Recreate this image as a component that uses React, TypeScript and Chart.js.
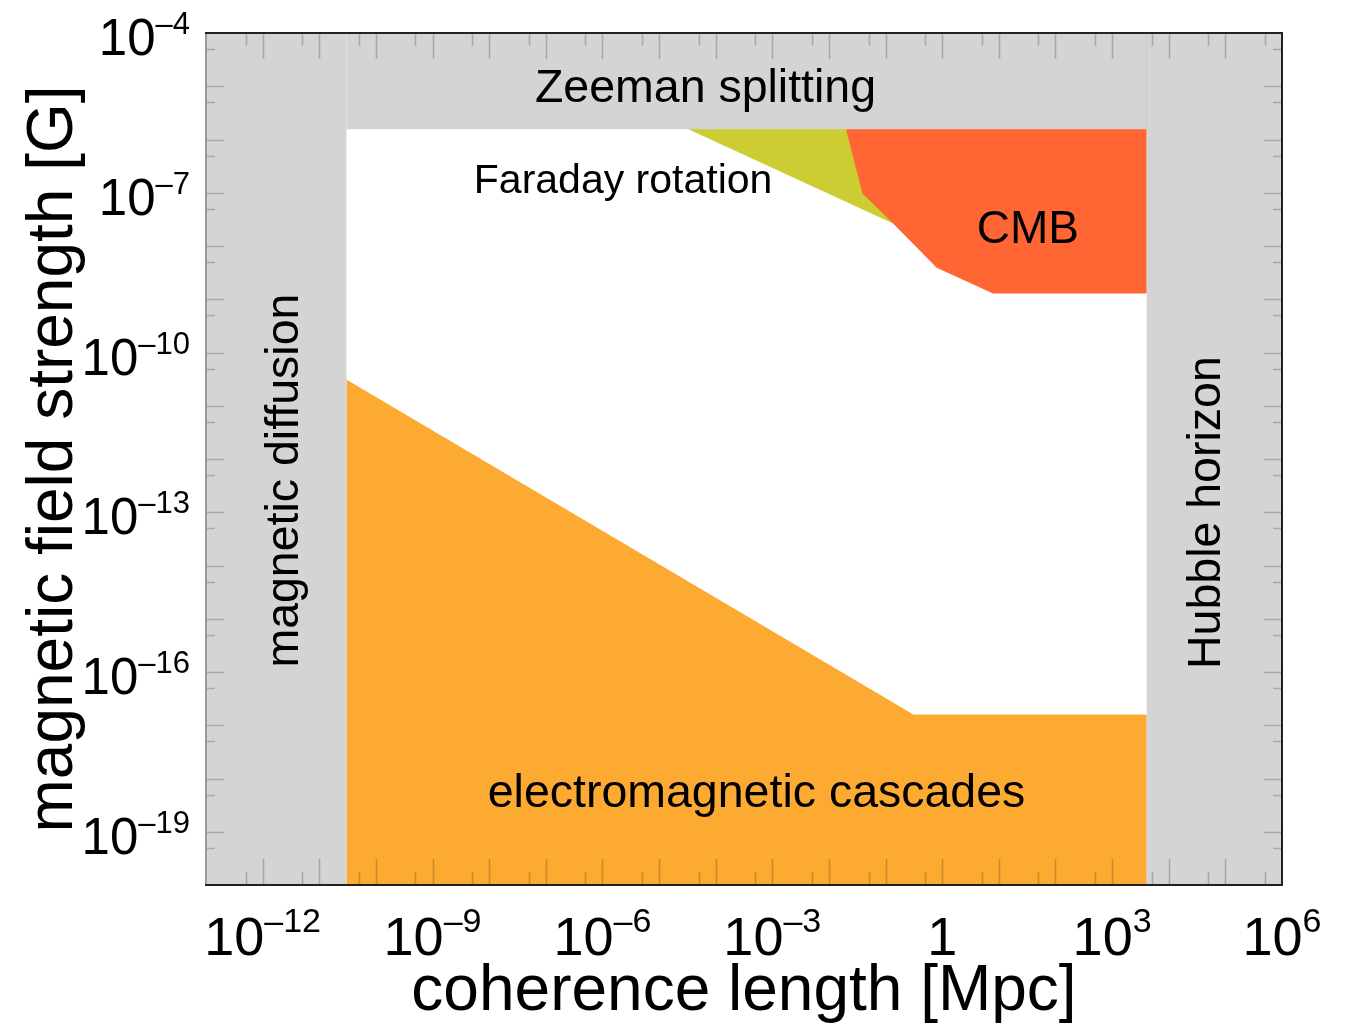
import React, { useEffect, useRef } from 'react';
import { Chart, registerables } from 'chart.js';

Chart.register(...registerables);

// ---- axis ranges ----
const X_MIN = 1e-13;
const X_MAX = 1e6;
const Y_MIN = 1e-20;
const Y_MAX = 1e-4;

// ---- excluded / constrained regions (coherence length [Mpc], field [G]) ----
const diffusionX = [1e-13, 3.05e-11];
const diffusionY = [1e-4, 1e-4];

const hubbleX = [4.05e3, 1e6];
const hubbleY = [1e-4, 1e-4];

const zeemanX = [3e-11, 4.1e3];
const zeemanY = [1.55e-6, 1.55e-6];

const cmbX = [0.02, 0.039, 0.136, 0.8, 7.9, 4.1e3];
const cmbY = [1.55e-6, 9.7e-8, 2.64e-8, 3.9e-9, 1.28e-9, 1.28e-9];

const faradayX = [3.3e-5, 0.136];
const faradayY = [1.55e-6, 2.64e-8];

const cascadesX = [3e-11, 0.31, 4.1e3];
const cascadesY = [3.1e-11, 1.6e-17, 1.6e-17];

// ---- tick labels (exponents of ten) ----
const xTickExps = [-12, -9, -6, -3, 0, 3, 6];
const yTickExps = [-4, -7, -10, -13, -16, -19];

// ---- text annotations (position in log10 data coordinates) ----
const annotations = [
  { text: 'Zeeman splitting', lx: -4.18, ly: -5.3, size: 46.5, rotate: false },
  { text: 'Faraday rotation', lx: -5.635, ly: -7.01, size: 41, rotate: false },
  { text: 'CMB', lx: 1.513, ly: -7.948, size: 46, rotate: false },
  { text: 'magnetic diffusion', lx: -11.371, ly: -12.406, size: 46.5, rotate: true },
  { text: 'Hubble horizon', lx: 4.9, ly: -13.007, size: 46.5, rotate: true },
  { text: 'electromagnetic cascades', lx: -3.279, ly: -18.535, size: 46.5, rotate: false },
];

const X_TITLE = 'coherence length [Mpc]';
const Y_TITLE = 'magnetic field strength [G]';

const GRAY = '#d4d4d4';
const ORANGE = '#fdaa33';
const OLIVE = '#cccc33';
const RED = '#ff6633';
const FONT = '"Liberation Sans", Arial, Helvetica, sans-serif';

const W = 1345;
const H = 1025;

const pts = (xs: number[], ys: number[]) => xs.map((x, i) => ({ x, y: ys[i] }));

const region = (label: string, xs: number[], ys: number[], color: string, fill: string) => ({
  label,
  data: pts(xs, ys),
  fill,
  backgroundColor: color,
  borderColor: 'rgba(0,0,0,0)',
  borderWidth: 0,
  pointRadius: 0,
  tension: 0,
});

const decorPlugin = {
  id: 'decor',
  afterDatasetsDraw(chart: any) {
    const { ctx, chartArea } = chart;
    const { left, right, top, bottom } = chartArea;
    const xs = chart.scales.x;
    const ys = chart.scales.y;
    ctx.save();
    // inward ticks
    ctx.strokeStyle = 'rgba(0,0,0,0.2)';
    ctx.lineWidth = 1.6;
    ctx.beginPath();
    for (let n = -14; n <= 7; n++) {
      const vals: [number, number][] = [
        [Math.pow(10, n), 26],
        [5 * Math.pow(10, n), 13],
      ];
      for (const [v, len] of vals) {
        if (v <= X_MIN || v >= X_MAX) continue;
        const px = Math.round(xs.getPixelForValue(v)) + 0.5;
        if (px <= left + 2 || px >= right - 2) continue;
        ctx.moveTo(px, bottom);
        ctx.lineTo(px, bottom - len);
        ctx.moveTo(px, top);
        ctx.lineTo(px, top + len);
      }
    }
    for (let n = -21; n <= -3; n++) {
      const vals: [number, number][] = [
        [Math.pow(10, n), 18],
        [5 * Math.pow(10, n), 9],
      ];
      for (const [v, len] of vals) {
        if (v <= Y_MIN || v >= Y_MAX) continue;
        const py = Math.round(ys.getPixelForValue(v)) + 0.5;
        if (py <= top + 2 || py >= bottom - 2) continue;
        ctx.moveTo(left, py);
        ctx.lineTo(left + len, py);
        ctx.moveTo(right, py);
        ctx.lineTo(right - len, py);
      }
    }
    ctx.stroke();

    // frame
    ctx.lineWidth = 2;
    ctx.strokeStyle = '#9a9a9a';
    ctx.beginPath();
    ctx.moveTo(left, top);
    ctx.lineTo(left, bottom);
    ctx.stroke();
    ctx.strokeStyle = '#222';
    ctx.beginPath();
    ctx.moveTo(left - 1, top);
    ctx.lineTo(right, top);
    ctx.lineTo(right, bottom);
    ctx.lineTo(left - 1, bottom);
    ctx.stroke();
    ctx.restore();
  },
  afterDraw(chart: any) {
    const { ctx, chartArea } = chart;
    const { left, right, top, bottom } = chartArea;
    const xs = chart.scales.x;
    const ys = chart.scales.y;
    ctx.save();
    ctx.fillStyle = '#000';
    ctx.textBaseline = 'alphabetic';

    // x tick labels
    const xb = 54, xsup = 34;
    for (const e of xTickExps) {
      const px = xs.getPixelForValue(Math.pow(10, e));
      if (e === 0) {
        ctx.font = `${xb}px ${FONT}`;
        ctx.textAlign = 'center';
        ctx.fillText('1', px, bottom + 70);
        continue;
      }
      const sup = e < 0 ? '\u2013' + String(-e) : String(e);
      ctx.font = `${xb}px ${FONT}`;
      const wb = ctx.measureText('10').width;
      ctx.font = `${xsup}px ${FONT}`;
      const ws = ctx.measureText(sup).width;
      const x0 = px - (wb + ws) / 2;
      ctx.textAlign = 'left';
      ctx.font = `${xb}px ${FONT}`;
      ctx.fillText('10', x0, bottom + 70);
      ctx.font = `${xsup}px ${FONT}`;
      ctx.fillText(sup, x0 + wb, bottom + 47);
    }

    // y tick labels
    const yb = 51, ysup = 31;
    for (const e of yTickExps) {
      const py = ys.getPixelForValue(Math.pow(10, e));
      const sup = e < 0 ? '\u2013' + String(-e) : String(e);
      const xr = left - 16;
      ctx.textAlign = 'right';
      ctx.font = `${ysup}px ${FONT}`;
      const ws = ctx.measureText(sup).width;
      ctx.fillText(sup, xr, py + 1);
      ctx.font = `${yb}px ${FONT}`;
      ctx.fillText('10', xr - ws, py + 22);
    }

    // axis titles
    ctx.font = `64px ${FONT}`;
    ctx.textAlign = 'center';
    ctx.fillText(X_TITLE, (left + right) / 2, bottom + 125);
    ctx.save();
    ctx.translate(left - 134, (top + bottom) / 2);
    ctx.rotate(-Math.PI / 2);
    ctx.fillText(Y_TITLE, 0, 0);
    ctx.restore();

    // region annotations
    for (const a of annotations) {
      const px = xs.getPixelForValue(Math.pow(10, a.lx));
      const py = ys.getPixelForValue(Math.pow(10, a.ly));
      ctx.font = `${a.size}px ${FONT}`;
      ctx.textAlign = 'center';
      if (a.rotate) {
        ctx.save();
        ctx.translate(px, py);
        ctx.rotate(-Math.PI / 2);
        ctx.fillText(a.text, 0, 0);
        ctx.restore();
      } else {
        ctx.fillText(a.text, px, py);
      }
    }
    ctx.restore();
  },
};

export default function App() {
  const ref = useRef<HTMLCanvasElement | null>(null);
  useEffect(() => {
    document.body.style.margin = '0';
    document.body.style.overflow = 'hidden';
    if (!ref.current) return;
    const chart = new Chart(ref.current, {
      type: 'line',
      data: {
        datasets: [
          region('magnetic diffusion', diffusionX, diffusionY, GRAY, 'start'),
          region('Hubble horizon', hubbleX, hubbleY, GRAY, 'start'),
          region('Zeeman splitting', zeemanX, zeemanY, GRAY, 'end'),
          region('CMB', cmbX, cmbY, RED, 'end'),
          region('Faraday rotation', faradayX, faradayY, OLIVE, 'end'),
          region('electromagnetic cascades', cascadesX, cascadesY, ORANGE, 'start'),
        ] as any,
      },
      options: {
        responsive: false,
        maintainAspectRatio: false,
        devicePixelRatio: 1,
        animation: false,
        layout: { padding: { left: 206, top: 33, right: W - 1282, bottom: H - 885 } },
        plugins: { legend: { display: false }, tooltip: { enabled: false } },
        elements: { line: { tension: 0 } },
        scales: {
          x: { type: 'logarithmic', min: X_MIN, max: X_MAX, display: false },
          y: { type: 'logarithmic', min: Y_MIN, max: Y_MAX, display: false },
        },
      } as any,
      plugins: [decorPlugin],
    });
    return () => chart.destroy();
  }, []);
  return (
    <canvas ref={ref} width={W} height={H} style={{ display: 'block', width: W, height: H }} />
  );
}
